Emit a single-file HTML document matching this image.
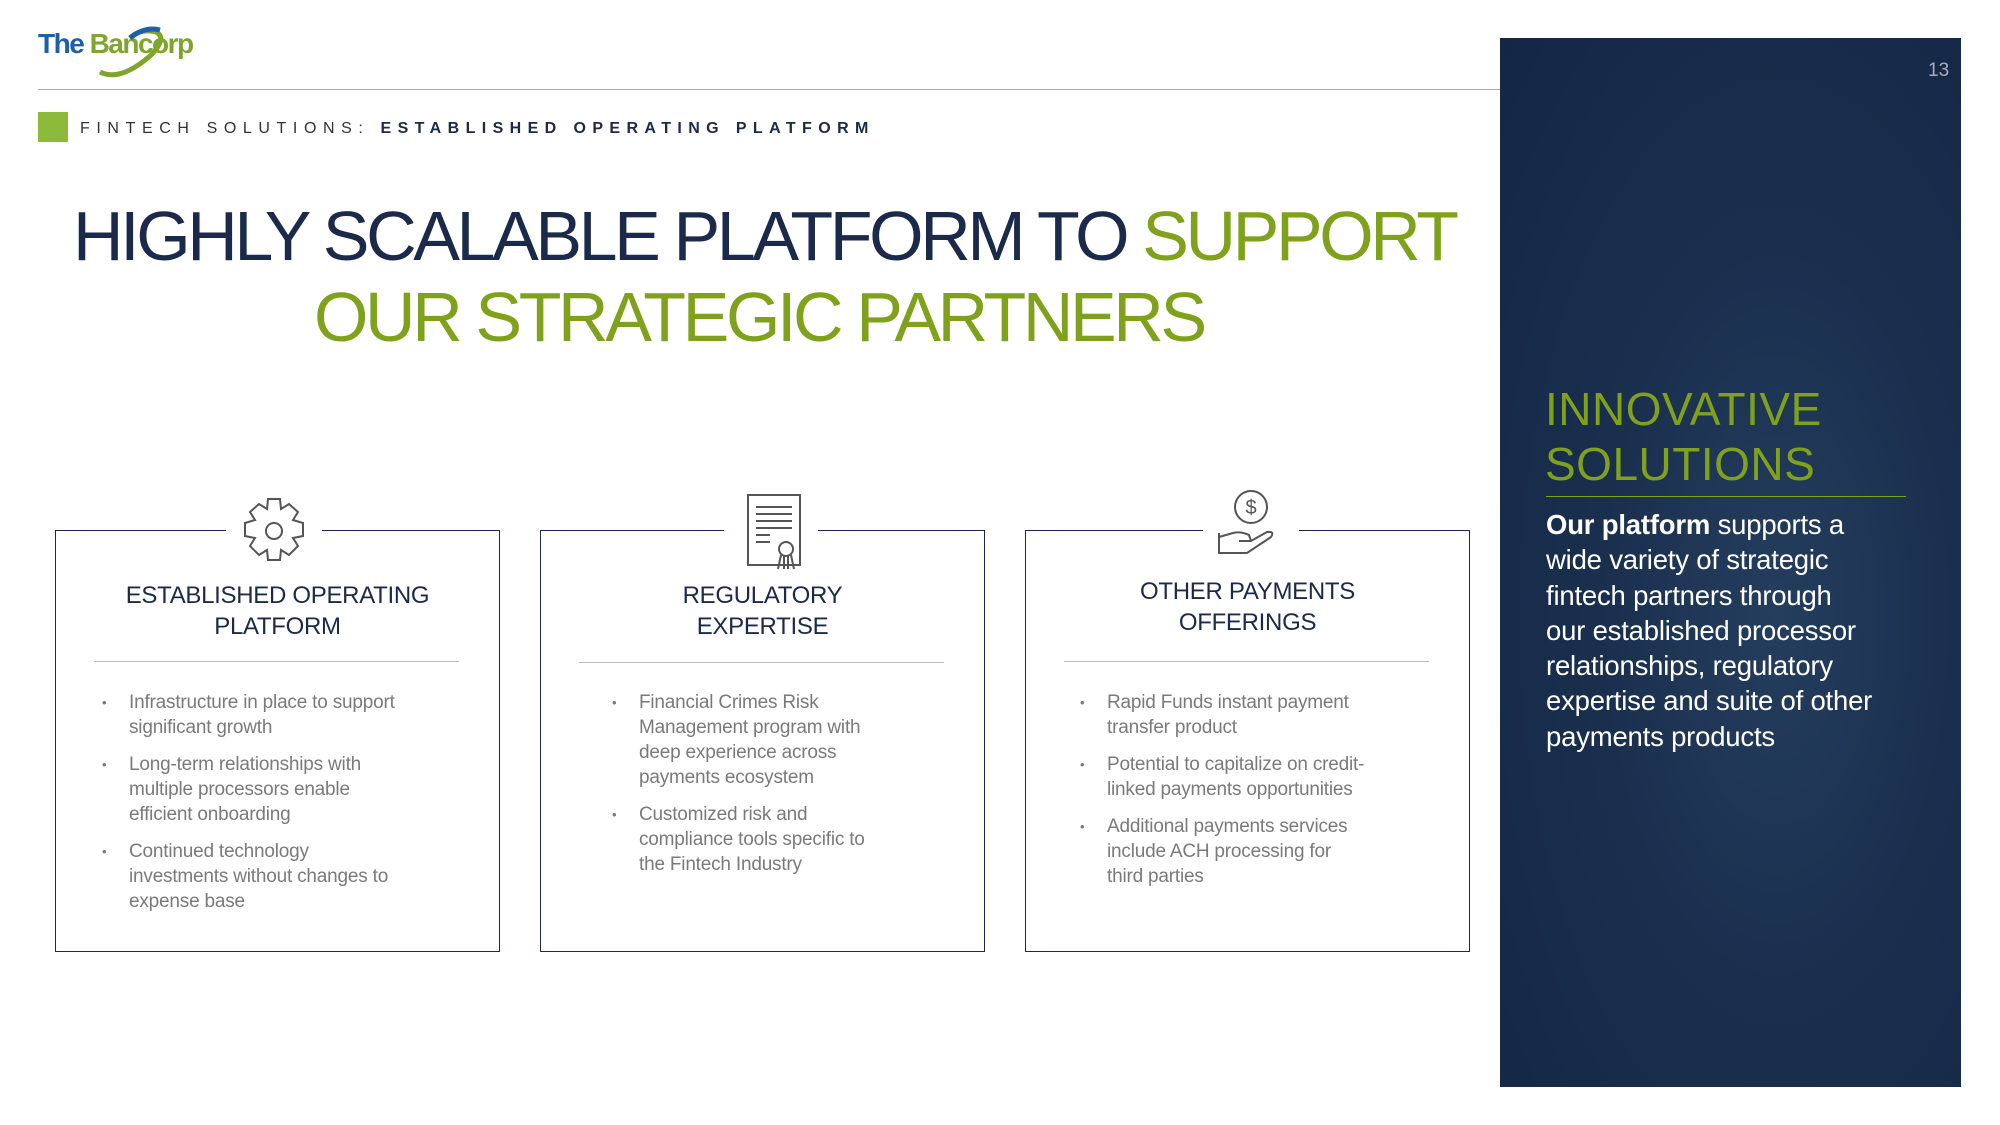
<!DOCTYPE html>
<html><head><meta charset="utf-8"><style>
*{margin:0;padding:0;box-sizing:border-box}
body{width:2000px;height:1125px;background:#fff;position:relative;overflow:hidden;font-family:"Liberation Sans",sans-serif;color:#1b2a4a}
.abs{position:absolute;white-space:nowrap}
.card{position:absolute;top:530px;width:445px;height:422px;border:1.5px solid #1b2a4a}
.gap{position:absolute;top:-10px;height:20px;background:#fff}
.hd{position:absolute;left:0;right:0;text-align:center;font-size:24px;line-height:31px;color:#1b2a4a;letter-spacing:-0.3px}
.sep{position:absolute;left:38px;right:40px;top:130px;border-top:1px solid #bbb}
ul{position:absolute;top:159px;list-style:none;white-space:nowrap}
li{position:relative;padding-left:27px;font-size:19px;line-height:25px;color:#7a7a7a;margin-bottom:12px;letter-spacing:-0.2px}
li:before{content:"•";position:absolute;left:0;font-size:13px;color:#777}
.panel{position:absolute;left:1500px;top:38px;width:461px;height:1049px;background:radial-gradient(ellipse at 60% 55%,#253e5e 0%,#1a2f4e 45%,#142645 100%)}
</style></head><body>
<div class="abs" style="left:38px;top:28px;font-size:28px;font-weight:bold;letter-spacing:-1.5px"><span style="color:#1f5fa8">The </span><span style="color:#7fa52e">Bancorp</span></div>
<svg class="abs" style="left:90px;top:26px" width="80" height="52"><path d="M10 46 Q30 56 60 30 Q78 12 66 6 Q50 2 40 12" fill="none" stroke="#7fa52e" stroke-width="5"/><path d="M40 12 Q55 0 70 4" fill="none" stroke="#1f5fa8" stroke-width="5"/></svg>
<div class="abs" style="left:38px;top:89px;width:1917px;border-top:1.5px solid #aaa"></div>
<div class="panel"></div>
<div class="abs" style="left:1928px;top:60px;font-size:19px;color:#aab">13</div>
<div class="abs" style="left:38px;top:112px;width:30px;height:30px;background:#8dba3a"></div>
<div class="abs" style="left:80px;top:120px;font-size:16px;letter-spacing:6.6px;color:#333">FINTECH SOLUTIONS: <b style="color:#1b2a4a;letter-spacing:6.4px">ESTABLISHED OPERATING PLATFORM</b></div>
<div class="abs" style="left:73px;top:196px;font-size:70px;line-height:80px;letter-spacing:-3.4px;color:#1b2a4a">HIGHLY SCALABLE PLATFORM TO <span style="color:#7fa11c">SUPPORT</span></div>
<div class="abs" style="left:314px;top:277px;font-size:70px;line-height:80px;letter-spacing:-3.4px;color:#7fa11c">OUR STRATEGIC PARTNERS</div>

<div class="card" style="left:55px">
<div class="gap" style="left:170px;width:96px"></div>
<svg class="abs" style="left:183px;top:-35px" width="70" height="70" viewBox="-35 -35 70 70"><path d="M-6 -32 L6 -32 L7 -22 L15 -27 L24 -19 L19 -11 L29 -8 L29 5 L19 7 L24 15 L15 24 L7 19 L6 29 L-6 29 L-7 19 L-15 24 L-24 15 L-19 7 L-29 5 L-29 -8 L-19 -11 L-24 -19 L-15 -27 L-7 -22 Z" fill="#fff" stroke="#555" stroke-width="2"/><circle r="8" fill="none" stroke="#555" stroke-width="2"/></svg>
<div class="hd" style="top:49px">ESTABLISHED OPERATING<br>PLATFORM</div>
<div class="sep"></div>
<ul style="left:46px"><li>Infrastructure in place to support<br>significant growth</li><li>Long-term relationships with<br>multiple processors enable<br>efficient onboarding</li><li>Continued technology<br>investments without changes to<br>expense base</li></ul>
</div>

<div class="card" style="left:540px">
<div class="gap" style="left:183px;width:94px"></div>
<svg class="abs" style="left:205px;top:-38px" width="60" height="78"><rect x="2" y="2" width="52" height="70" fill="#fff" stroke="#555" stroke-width="2"/><g stroke="#555" stroke-width="2"><line x1="10" y1="14" x2="46" y2="14"/><line x1="10" y1="21" x2="46" y2="21"/><line x1="10" y1="28" x2="46" y2="28"/><line x1="10" y1="35" x2="46" y2="35"/><line x1="10" y1="42" x2="24" y2="42"/><line x1="10" y1="49" x2="24" y2="49"/></g><circle cx="40" cy="56" r="7" fill="#fff" stroke="#555" stroke-width="2"/><path d="M35 62 L32 76 M45 62 L48 76 M38 63 L38 76 M42 63 L42 76" stroke="#555" stroke-width="2"/></svg>
<div class="hd" style="top:49px">REGULATORY<br>EXPERTISE</div>
<div class="sep" style="top:131px"></div>
<ul style="left:71px"><li>Financial Crimes Risk<br>Management program with<br>deep experience across<br>payments ecosystem</li><li>Customized risk and<br>compliance tools specific to<br>the Fintech Industry</li></ul>
</div>

<div class="card" style="left:1025px">
<div class="gap" style="left:177px;width:96px"></div>
<svg class="abs" style="left:185px;top:-42px" width="80" height="76"><circle cx="40" cy="18" r="16" fill="#fff" stroke="#555" stroke-width="2"/><text x="40" y="25" text-anchor="middle" font-size="20" fill="#555" font-family="Liberation Sans">$</text><path d="M8 44 L8 64 L36 64 L60 48 Q64 42 56 43 L40 52 L28 52 M8 48 L22 44 Q30 42 38 46 L40 52" fill="none" stroke="#555" stroke-width="2"/></svg>
<div class="hd" style="top:45px">OTHER PAYMENTS<br>OFFERINGS</div>
<div class="sep"></div>
<ul style="left:54px"><li>Rapid Funds instant payment<br>transfer product</li><li>Potential to capitalize on credit-<br>linked payments opportunities</li><li>Additional payments services<br>include ACH processing for<br>third parties</li></ul>
</div>

<div class="abs" style="left:1545px;top:382px;font-size:46px;line-height:55px;color:#7fa11c;letter-spacing:0.5px">INNOVATIVE<br>SOLUTIONS</div>
<div class="abs" style="left:1546px;top:496px;width:360px;border-top:1.5px solid #7fa11c"></div>
<div class="abs" style="left:1546px;top:507px;font-size:27.5px;line-height:35.3px;color:#fff;letter-spacing:-0.2px"><b>Our platform</b> supports a<br>wide variety of strategic<br>fintech partners through<br>our established processor<br>relationships, regulatory<br>expertise and suite of other<br>payments products</div>
</body></html>
